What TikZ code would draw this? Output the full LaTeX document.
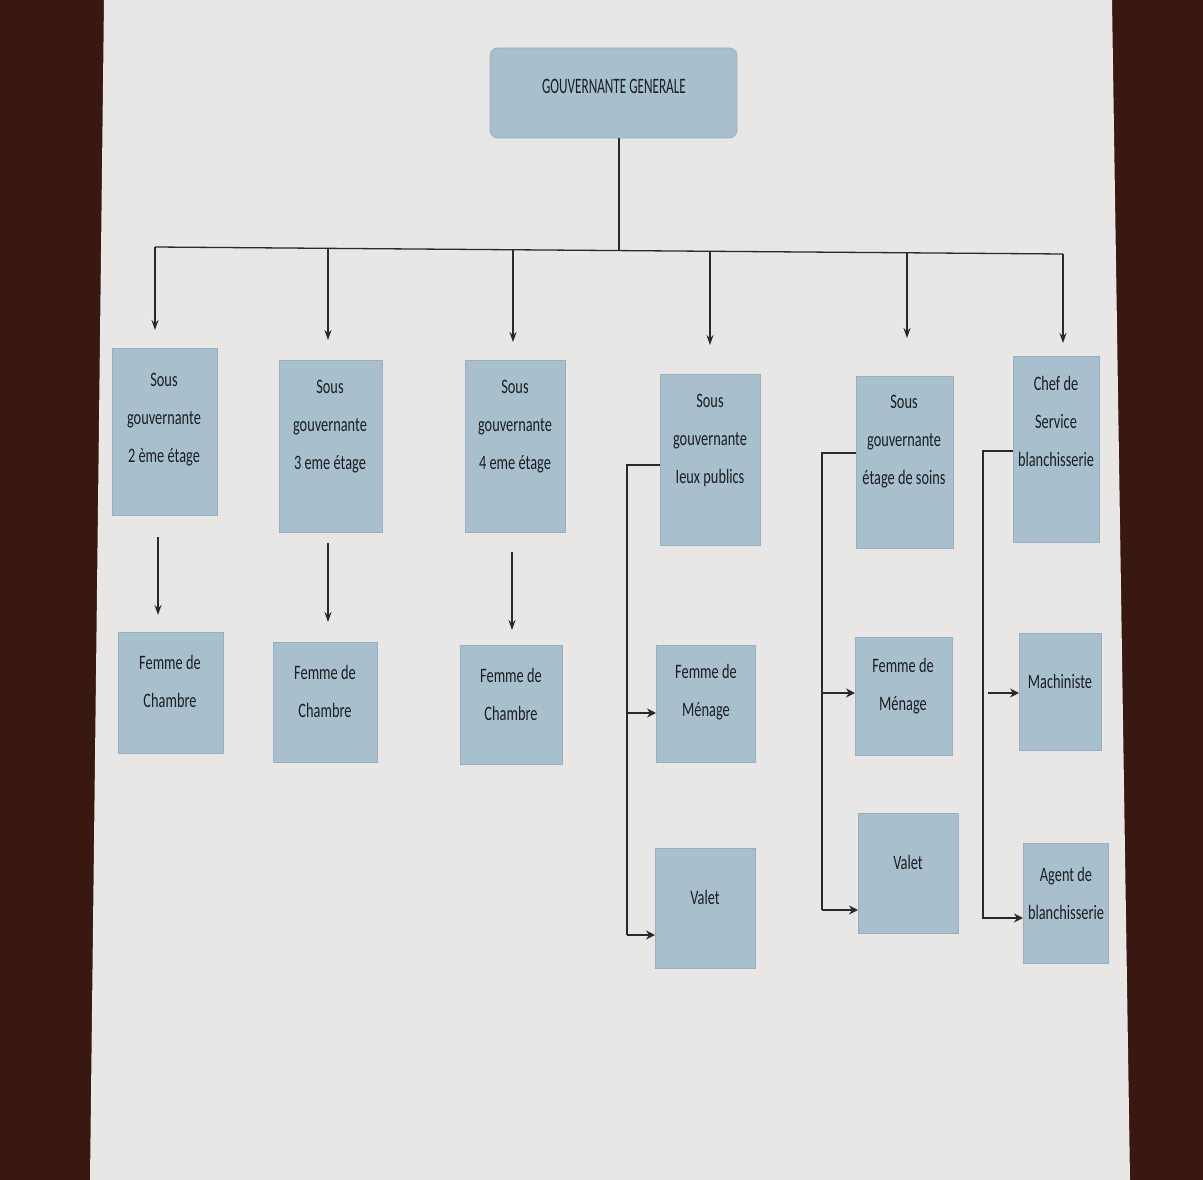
\documentclass[tikz,border=0pt]{standalone}
\usepackage{fontspec}
\setmainfont{Carlito}[FakeStretch=0.7]
\newfontfamily\titlefont{Carlito}[FakeStretch=0.6]
\usetikzlibrary{arrows.meta}
\definecolor{bgbrown}{HTML}{3A1812}
\definecolor{paper}{HTML}{E8E7E6}
\definecolor{boxblue}{HTML}{A8BFCE}
\definecolor{boxedge}{HTML}{9AAEBB}
\definecolor{linec}{HTML}{2A2A2A}
\definecolor{txtc}{HTML}{1A1E22}
\tikzset{
  box/.style={fill=boxblue, draw=boxedge, line width=0.8pt, inner sep=0pt, outer sep=0pt},
  lbl/.style={font=\fontsize{20.5}{38}\selectfont, align=center, text=txtc, inner sep=0pt},
  conn/.style={draw=linec, line width=1.3pt},
  arr/.style={conn, -{Stealth[length=10pt,width=7pt]}},
  sarr/.style={draw=linec, line width=2.4pt, -{Stealth[length=9pt,width=9pt]}}
}
\begin{document}
\begin{tikzpicture}[x=1pt,y=-1pt]
\useasboundingbox (0,0) rectangle (1203,1180);
\fill[bgbrown] (0,0) rectangle (1203,1180);
\fill[paper] (104,0) -- (1112,0) -- (1130,1180) -- (90,1180) -- cycle;

% top
\node[box, rounded corners=8pt, minimum width=247pt, minimum height=90pt] (g) at (613.5,93) {};
\node[text=txtc, font=\titlefont\fontsize{22}{24}\selectfont, inner sep=0pt] (gt) at (614,86) {GOUVERNANTE GENERALE};

% level 2
\node[box, minimum width=105pt, minimum height=167pt] (s1) at (164.5,431.5) {};
\node[box, minimum width=103pt, minimum height=172pt] (s2) at (330.5,446) {};
\node[box, minimum width=100pt, minimum height=172pt] (s3) at (515,446) {};
\node[box, minimum width=100pt, minimum height=171pt] (s4) at (710,459.5) {};
\node[box, minimum width=97pt, minimum height=172pt] (s5) at (904.5,462) {};
\node[box, minimum width=86pt, minimum height=186pt] (s6) at (1056,449) {};
\node[lbl] (s1t) at (164,420) {Sous\\gouvernante\\2 ème étage};
\node[lbl] (s2t) at (330,427) {Sous\\gouvernante\\3 eme étage};
\node[lbl] (s3t) at (515,427) {Sous\\gouvernante\\4 eme étage};
\node[lbl] (s4t) at (710,440) {Sous\\gouvernante\\Ieux publics};
\node[lbl] (s5t) at (904,442) {Sous\\gouvernante\\étage de soins};
\node[lbl] (s6t) at (1056,421) {Chef de\\Service\\blanchisserie};

% level 3
\node[box, minimum width=105pt, minimum height=121pt] (f1) at (170.5,692.5) {};
\node[box, minimum width=104pt, minimum height=120pt] (f2) at (325,702) {};
\node[box, minimum width=102pt, minimum height=119pt] (f3) at (511,704.5) {};
\node[box, minimum width=99pt, minimum height=117pt] (m4) at (705.5,703.5) {};
\node[box, minimum width=100pt, minimum height=120pt] (v4) at (705,908) {};
\node[box, minimum width=97pt, minimum height=118pt] (m5) at (903.5,696) {};
\node[box, minimum width=100pt, minimum height=120pt] (v5) at (908,873) {};
\node[box, minimum width=82pt, minimum height=117pt] (ma6) at (1060,691.5) {};
\node[box, minimum width=85pt, minimum height=120pt] (ag6) at (1065.5,903) {};
\node[lbl] (f1t) at (170,681.5) {Femme de\\Chambre};
\node[lbl] (f2t) at (325,691) {Femme de\\Chambre};
\node[lbl] (f3t) at (511,694) {Femme de\\Chambre};
\node[lbl] (m4t) at (706,692.5) {Femme de\\Ménage};
\node[lbl] (v4t) at (705,897) {Valet};
\node[lbl] (m5t) at (903,686) {Femme de\\Ménage};
\node[lbl] (v5t) at (908,862) {Valet};
\node[lbl] (ma6t) at (1060,681) {Machiniste};
\node[lbl] (ag6t) at (1066,893.5) {Agent de\\blanchisserie};

% top connectors
\coordinate (jn) at (619,250.6);
\coordinate (b1) at (155,247);
\coordinate (b2) at (328,248.3);
\coordinate (b3) at (513,249.8);
\coordinate (b4) at (710,251.3);
\coordinate (b5) at (907,252.8);
\coordinate (b6) at (1063,254);
\coordinate (e1) at (155,330);
\coordinate (e2) at (328,340);
\coordinate (e3) at (513,342);
\coordinate (e4) at (710,345);
\coordinate (e5) at (907,338);
\coordinate (e6) at (1063,343);
\draw[conn] (g.south -| jn) -- (jn);
\draw[conn] (b1) -- (b6);
\draw[arr] (b1) -- (e1);
\draw[arr] (b2) -- (e2);
\draw[arr] (b3) -- (e3);
\draw[arr] (b4) -- (e4);
\draw[arr] (b5) -- (e5);
\draw[arr] (b6) -- (e6);

% level 2 to 3 (first three columns)
\coordinate (d1a) at (158,537); \coordinate (d1b) at (158,615);
\coordinate (d2a) at (328,543); \coordinate (d2b) at (328,622);
\coordinate (d3a) at (512,552); \coordinate (d3b) at (512,630);
\draw[arr] (d1a) -- (d1b);
\draw[arr] (d2a) -- (d2b);
\draw[arr] (d3a) -- (d3b);

% column 4
\coordinate (k4a) at (627,465);
\coordinate (k4m) at (627,713);
\coordinate (k4b) at (627,935);
\draw[conn] (s4.west |- k4a) -- (k4a) -- (k4b);
\draw[sarr] (k4m) -- (m4.west |- k4m);
\draw[sarr] (k4b) -- (v4.west |- k4b);

% column 5
\coordinate (k5a) at (822,453);
\coordinate (k5m) at (822,693);
\coordinate (k5b) at (822,910);
\draw[conn] (s5.west |- k5a) -- (k5a) -- (k5b);
\draw[sarr] (k5m) -- (m5.west |- k5m);
\draw[sarr] (k5b) -- (v5.west |- k5b);

% column 6
\coordinate (k6a) at (983,451);
\coordinate (k6m) at (988,693);
\coordinate (k6b) at (988,918);
\draw[conn] (s6.west |- k6a) -- (k6a) -- (983,918) -- (k6b);
\draw[sarr] (k6m) -- (ma6.west |- k6m);
\draw[sarr] (k6b) -- (ag6.west |- k6b);
\end{tikzpicture}
\end{document}
